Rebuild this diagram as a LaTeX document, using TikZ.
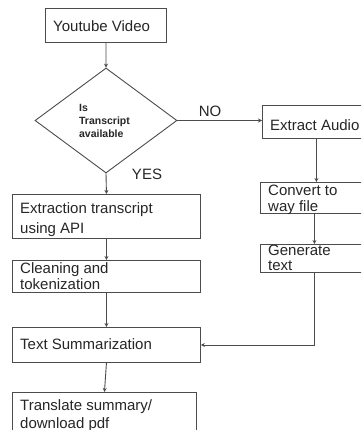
\documentclass[tikz,border=0pt]{standalone}
\usepackage{fontspec}
\setmainfont{Liberation Sans}
\usetikzlibrary{shapes.geometric,arrows.meta}
\begin{document}
\begin{tikzpicture}[x=1pt,y=-1pt,
  box/.style={draw=black!70, line width=0.9pt, inner sep=0, anchor=north west},
  txt/.style={anchor=base west, inner sep=0, font=\fontsize{15}{18}\selectfont, text=black!85},
  lbl/.style={inner sep=0, font=\fontsize{15}{18}\selectfont, text=black!85},
  arr/.style={draw=black!70, line width=0.9pt, -{Stealth[length=4pt,width=4pt]}}]
\clip (0,0) rectangle (361,430);
\fill[white] (0,0) rectangle (361,430);
% boxes
\node[box, minimum width=121pt, minimum height=34pt] (yt) at (45,8) {};
\node[box, shape=diamond, anchor=center, minimum width=142pt, minimum height=105pt] (dec) at (106,120.5) {};
\node[box, minimum width=108pt, minimum height=33pt] (ea) at (262,105) {};
\node[box, minimum width=108pt, minimum height=31pt] (cv) at (260,182) {};
\node[box, minimum width=108pt, minimum height=28pt] (gt) at (260,244) {};
\node[box, minimum width=188pt, minimum height=44pt] (et) at (12,194) {};
\node[box, minimum width=188pt, minimum height=32pt] (cl) at (12,260) {};
\node[box, minimum width=188pt, minimum height=35pt] (ts) at (12,327) {};
\node[box, minimum width=184pt, minimum height=50pt] (tr) at (12,392) {};
% texts
\node[txt] (yt1) at (53,31.5) {Youtube Video};
\node[inner sep=0, align=left, font=\fontsize{10.5}{13}\selectfont\bfseries, text=black!85] (dect) at (104.5,121) {Is\\Transcript\\available};
\node[txt] (ea1) at (270,131) {Extract Audio};
\node[txt] (cv1) at (268,195) {Convert to};
\node[txt] (cv2) at (268,211) {way file};
\node[txt] (gt1) at (268,255) {Generate};
\node[txt] (gt2) at (268,270) {text};
\node[txt] (et1) at (20,213) {Extraction transcript};
\node[txt] (et2) at (20,233) {using API};
\node[txt] (cl1) at (20,273) {Cleaning and};
\node[txt] (cl2) at (20,289) {tokenization};
\node[txt] (ts1) at (20,349) {Text Summarization};
\node[txt] (tr1) at (20,410) {Translate summary/};
\node[txt] (tr2) at (20,428) {download pdf};
\node[lbl] (no) at (210,111.5) {NO};
\node[lbl] (yes) at (147,174) {YES};
% connectors
\draw[arr] (yt.south) -- (dec.north);
\draw[arr] (dec.south) -- (et.north);
\draw[arr] (dec.east) -- (dec.east -| ea.west);
\draw[arr] (ea.south) -- (ea.south |- cv.north);
\draw[arr] (cv.south) -- (gt.north);
\draw[arr] (gt.south) |- (ts.east);
\draw[arr] (et.south) -- (cl.north);
\draw[arr] (cl.south) -- (ts.north);
\draw[arr] (ts.south) -- (tr.north);
\end{tikzpicture}
\end{document}
